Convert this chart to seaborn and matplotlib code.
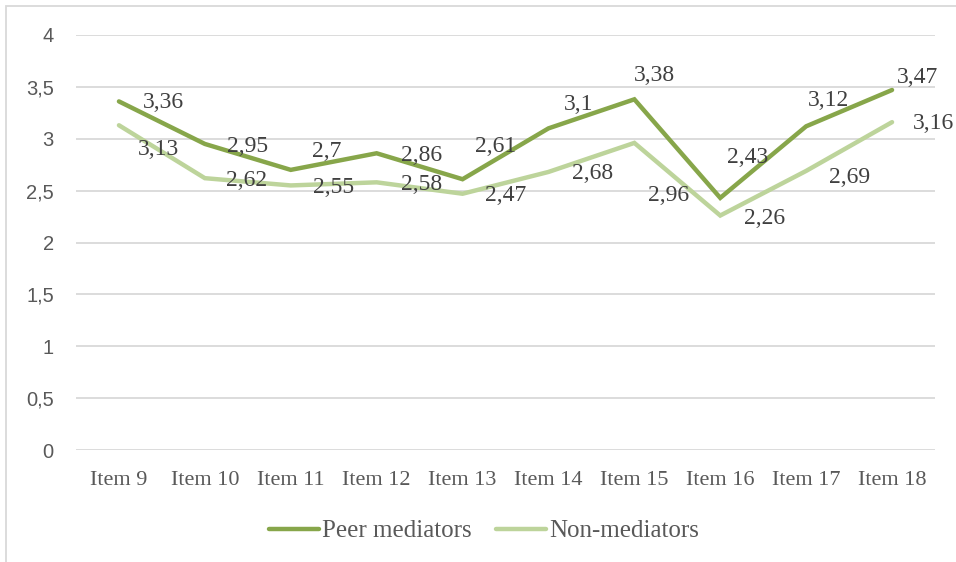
import matplotlib
matplotlib.use('Agg')
import matplotlib.pyplot as plt
import seaborn as sns
import pandas as pd
from matplotlib.patches import Rectangle

# data
items = ['Item 9', 'Item 10', 'Item 11', 'Item 12', 'Item 13',
         'Item 14', 'Item 15', 'Item 16', 'Item 17', 'Item 18']
peer_mediators = [3.36, 2.95, 2.70, 2.86, 2.61, 3.10, 3.38, 2.43, 3.12, 3.47]
non_mediators = [3.13, 2.62, 2.55, 2.58, 2.47, 2.68, 2.96, 2.26, 2.69, 3.16]
series_names = ['Peer mediators', 'Non-mediators']

# label placement (pixel offsets from each point, Excel-like)
peer_offsets = [(44, 1), (43, 3), (36, -18), (45, 2), (33, -33),
                (30, -24), (20, -24), (27, -40), (22, -26), (25, -12)]
non_offsets = [(40, 24), (42, 2), (43, 2), (45, 2), (43, 2),
               (44, 2), (34, 53), (44, 3), (43, 7), (41, 1)]

colors = {'Peer mediators': '#87A64A', 'Non-mediators': '#BDD49B'}

sns.set_theme(style='white')
plt.rcParams['font.family'] = ['Liberation Serif', 'DejaVu Serif']

df = pd.DataFrame({
    'item': items * 2,
    'value': peer_mediators + non_mediators,
    'group': [series_names[0]] * len(items) + [series_names[1]] * len(items),
})

fig = plt.figure(figsize=(9.56, 5.62), dpi=100)
ax = fig.add_axes([76 / 956, 1 - 450 / 562, 859 / 956, 415 / 562])

sns.lineplot(data=df, x='item', y='value', hue='group', palette=colors,
             sort=False, linewidth=3.2, ax=ax, legend=False,
             solid_capstyle='round', solid_joinstyle='miter')

ax.set_xlim(-0.5, len(items) - 0.5)
ax.set_ylim(0, 4)
ax.set_yticks([0, 0.5, 1, 1.5, 2, 2.5, 3, 3.5, 4])
ax.set_yticklabels([f'{t:g}'.replace('.', ',') for t in ax.get_yticks()],
                   family='Liberation Sans', fontsize=14.5, color='#595959')
ax.set_xticks(range(len(items)))
ax.set_xticklabels(items, fontsize=16, color='#595959')
ax.tick_params(axis='y', length=0, pad=16)
ax.tick_params(axis='x', length=0, pad=15)
ax.set_xlabel('')
ax.set_ylabel('')
ax.grid(axis='y', color='#D9D9D9', linewidth=1.3)
ax.set_axisbelow(True)
for s in ax.spines.values():
    s.set_visible(False)

for vals, offs in [(peer_mediators, peer_offsets), (non_mediators, non_offsets)]:
    for i, (v, (dx, dy)) in enumerate(zip(vals, offs)):
        lab = f'{v:g}'.replace('.', ',')
        ax.annotate(lab, xy=(i, v), xytext=(dx, -dy), textcoords='offset pixels',
                    ha='center', va='center', fontsize=17, color='#404040')

handles = [plt.Line2D([], [], color=colors[n], linewidth=3.2, solid_capstyle='round')
           for n in series_names]
fig.legend(handles, series_names, loc='center', bbox_to_anchor=(484 / 956, 1 - 531 / 562),
           ncol=2, frameon=False, fontsize=18, handlelength=2.0, handletextpad=0.1,
           columnspacing=1.0, labelcolor='#595959')

# chart border like the source
fig.patches.append(Rectangle((6 / 956, -0.01), 1.0, 1 - 6 / 562 + 0.01,
                             transform=fig.transFigure, fill=False,
                             edgecolor='#D9D9D9', linewidth=1.3))

fig.savefig('out.png', dpi=100, facecolor='white')
